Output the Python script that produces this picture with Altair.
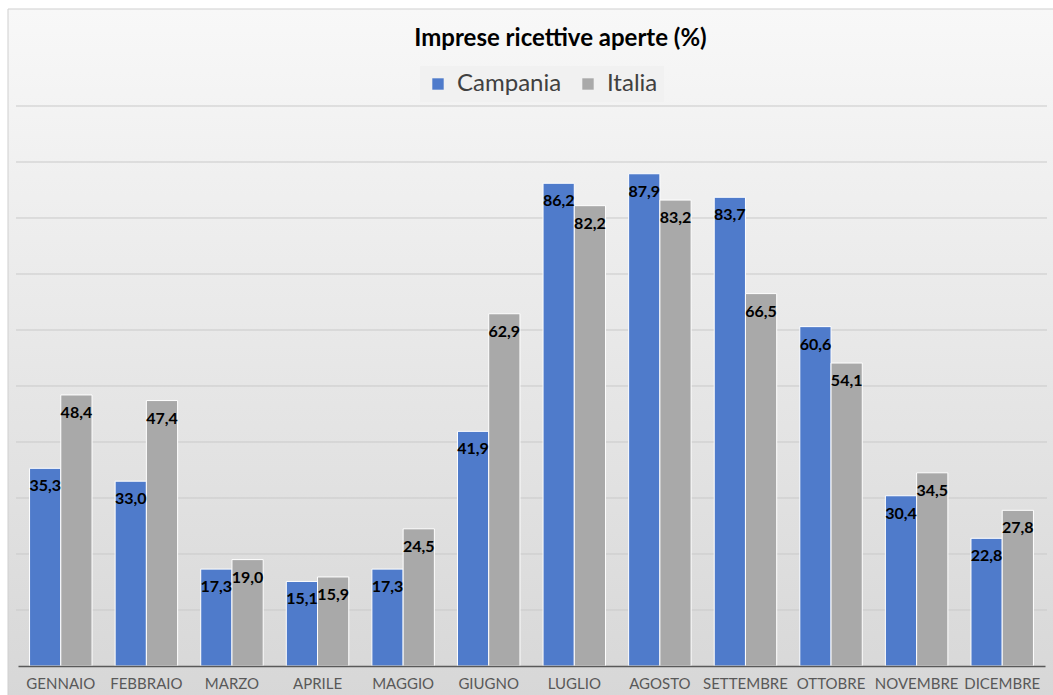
import altair as alt
import pandas as pd

# Monthly share of accommodation businesses open (%)
mesi = ["GENNAIO", "FEBBRAIO", "MARZO", "APRILE", "MAGGIO", "GIUGNO",
        "LUGLIO", "AGOSTO", "SETTEMBRE", "OTTOBRE", "NOVEMBRE", "DICEMBRE"]
campania = [35.3, 33.0, 17.3, 15.1, 17.3, 41.9, 86.2, 87.9, 83.7, 60.6, 30.4, 22.8]
italia = [48.4, 47.4, 19.0, 15.9, 24.5, 62.9, 82.2, 83.2, 66.5, 54.1, 34.5, 27.8]
serie = ["Campania", "Italia"]
griglia = [10, 20, 30, 40, 50, 60, 70, 80, 90, 100]

rows = []
for m, c, i in zip(mesi, campania, italia):
    rows.append({"mese": m, "serie": "Campania", "valore": c})
    rows.append({"mese": m, "serie": "Italia", "valore": i})
df = pd.DataFrame(rows)

W, H = 1027, 560
FONT = "Lato"

x_enc = alt.X("mese:N", sort=mesi,
              scale=alt.Scale(paddingInner=0.27, paddingOuter=0.135),
              axis=alt.Axis(title=None, labelAngle=0, ticks=False, grid=False,
                            domainColor="#595959", domainWidth=1.5,
                            labelColor="#595959", labelFontSize=15, labelFont=FONT,
                            labelPadding=10, zindex=1))
y_scale = alt.Scale(domain=[0, 100])
xo_enc = alt.XOffset("serie:N", sort=serie)

# panel background with soft vertical gradient
sfondo = alt.Chart(alt.Data(values=[{}])).mark_rect(
    color=alt.Gradient(gradient="linear", x1=0, y1=0, x2=0, y2=1,
                       stops=[alt.GradientStop(color="#f8f8f8", offset=0),
                              alt.GradientStop(color="#d7d7d7", offset=1)]),
    stroke="#cfcfcf", strokeWidth=1
).encode(x=alt.value(-10), x2=alt.value(W + 12), y=alt.value(-97), y2=alt.value(H + 32))

linee = alt.Chart(pd.DataFrame({"v": griglia})).mark_rule(
    color="#c9c9c9", strokeWidth=1
).encode(y=alt.Y("v:Q", scale=y_scale, axis=None),
         x=alt.value(-2), x2=alt.value(W + 2))

barre = alt.Chart(df).mark_bar(stroke="white", strokeWidth=1).encode(
    x=x_enc,
    xOffset=xo_enc,
    y=alt.Y("valore:Q", scale=y_scale, axis=None),
    color=alt.Color("serie:N", sort=serie,
                    scale=alt.Scale(domain=serie, range=["#4f7bcb", "#a9a9a9"]),
                    legend=alt.Legend(title=None, orient="none", direction="horizontal",
                                      legendX=402, legendY=-40,
                                      symbolType="square", symbolSize=130,
                                      symbolStrokeWidth=0, labelOffset=7,
                                      labelFontSize=24, labelFont=FONT, labelColor="#404040",
                                      columnPadding=14, fillColor="#f1f1f1",
                                      padding=6)),
)

etichette = alt.Chart(df).transform_calculate(
    etichetta="replace(format(datum.valore, '.1f'), '.', ',')"
).mark_text(baseline="top", dy=10, fontWeight="bold", fontSize=16, font=FONT,
            color="black").encode(
    x=x_enc,
    xOffset=xo_enc,
    y=alt.Y("valore:Q", scale=y_scale, axis=None),
    text="etichetta:N",
)

chart = alt.layer(sfondo, linee, barre, etichette).properties(
    width=W, height=H,
    autosize=alt.AutoSizeParams(type="none"),
    padding={"left": 18, "top": 106, "right": 8, "bottom": 29},
    title=alt.TitleParams("Imprese ricettive aperte (%)", fontSize=24, font=FONT,
                          fontWeight="bold", color="black", anchor="middle",
                          baseline="bottom", offset=-66, dx=29),
).configure_view(stroke=None).configure(background="white")

chart.save("out.html", embed_options={"renderer": "svg", "actions": False})
